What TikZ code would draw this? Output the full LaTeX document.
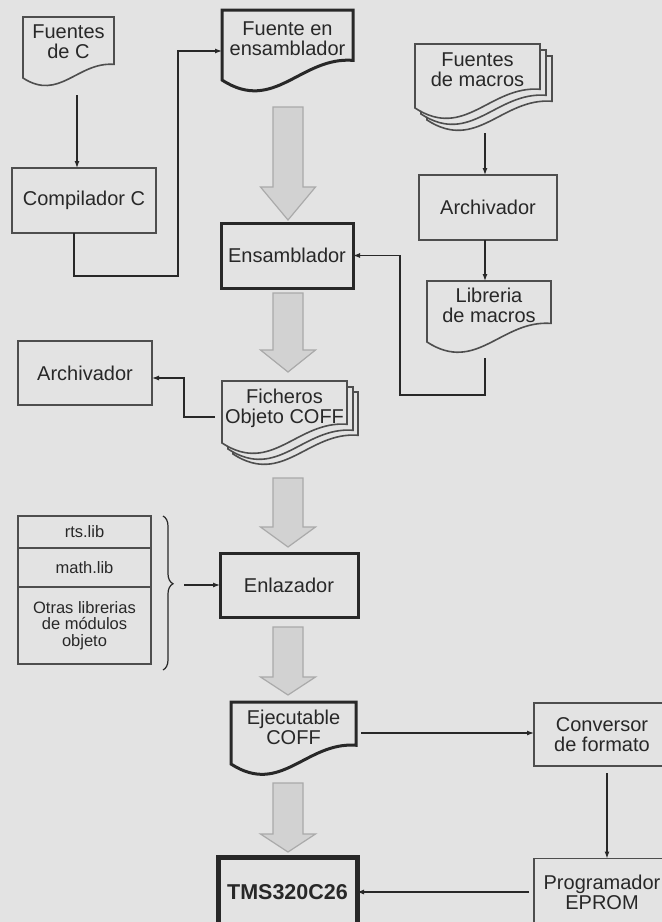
\documentclass[tikz,border=0pt]{standalone}
\usepackage{fontspec}
\setmainfont{Liberation Sans}
\usetikzlibrary{positioning,arrows.meta,decorations.pathreplacing,backgrounds}
\definecolor{PaperBg}{RGB}{227,227,227}
\definecolor{Ink}{RGB}{40,40,40}
\definecolor{BoxLine}{RGB}{78,78,78}
\definecolor{FatFill}{RGB}{210,210,210}
\definecolor{FatLine}{RGB}{170,170,170}

\tikzset{
  box/.style={draw=BoxLine,line width=1.6pt,fill=PaperBg,text=Ink,align=center,
              inner sep=0pt,outer sep=0pt,font=\fontsize{20}{20}\selectfont},
  boldbox/.style={box,draw=Ink,line width=3pt},
  libbox/.style={box,minimum width=133pt,font=\fontsize{16.5}{16.5}\selectfont},
  docnode/.style={text=Ink,align=center,inner sep=0pt,outer sep=0pt,text depth=12pt,
              font=\fontsize{20}{20}\selectfont},
  sheet/.style={draw=BoxLine,line width=1.6pt,fill=PaperBg},
  boldsheet/.style={draw=Ink,line width=3pt,fill=PaperBg},
  flow/.style={draw=Ink,line width=1.2pt,-{Latex[length=7pt,width=5pt]}},
  fatfill/.style={fill=FatFill,draw=FatLine,line width=1.2pt},
  libbrace/.style={draw=Ink,line width=1.2pt,decorate,
              decoration={brace,amplitude=10pt,aspect=0.44}},
}

% document symbol: #2 node, #3 width, #4 offset of the sheet
\newcommand{\docsheet}[4][sheet]{%
  \filldraw[#1] ([shift={(#4)}]#2.north west) -- ([shift={(#4)}]#2.north east)
    -- ([shift={(#4)},shift={(0,-0.15*#3)}]#2.south east)
    .. controls +(-0.4*#3,-0.03*#3) and +(0.4*#3,0.26*#3) .. ([shift={(#4)}]#2.south west)
    -- cycle;}

% wide grey arrow: #1 tip, #2 length, #3 head length
\newcommand{\fatarrow}[3]{%
  \filldraw[fatfill] (#1) -- ++(-27.5,-#3) -- ++(12.5,0) -- ++(0,{-(#2-#3)})
    -- ++(30,0) -- ++(0,{#2-#3}) -- ++(12.5,0) -- cycle;}

\begin{document}
\begin{tikzpicture}[x=1pt,y=-1pt]
  \useasboundingbox (0,0) rectangle (662,922);
  \clip (0,0) rectangle (662,922);

  % left column
  \node[docnode,minimum width=91pt,minimum height=61pt] (fuentesC) at (68.5,47.5) {Fuentes\\de C};
  \node[box,minimum width=144pt,minimum height=65pt] (compC) at (84,200.5) {Compilador C};
  \node[box,minimum width=134pt,minimum height=64pt] (archL) at (85,373) {Archivador};
  \node[libbox,minimum height=32pt] (rtsLib) at (84.5,532) {rts.lib};
  \node[libbox,minimum height=39pt,below=0pt of rtsLib] (mathLib) {math.lib};
  \node[libbox,minimum height=77pt,below=0pt of mathLib] (otherLib) {Otras librerias\\de módulos\\objeto};

  % main chain
  \node[docnode,minimum width=131pt,minimum height=70pt] (fensam) at (287.5,45) {Fuente en\\ensamblador};
  \node[boldbox,minimum width=132pt,minimum height=65pt] (ensam) at (287,255.5) {Ensamblador};
  \node[docnode,minimum width=125pt,minimum height=62pt] (ficheros) at (284.5,412) {Ficheros\\Objeto COFF};
  \node[boldbox,minimum width=138pt,minimum height=64pt] (enlaz) at (289,585) {Enlazador};
  \node[docnode,minimum width=125pt,minimum height=62pt] (ejec) at (293.5,733) {Ejecutable\\COFF};
  \node[box,draw=Ink,line width=5pt,minimum width=139pt,minimum height=70pt,
        font=\bfseries\fontsize{21.5}{21.5}\selectfont] (tms) at (287.5,892) {TMS320C26};

  % right column
  \node[docnode,minimum width=125pt,minimum height=64pt] (fmacros) at (477.5,76) {Fuentes\\de macros};
  \node[box,minimum width=138pt,minimum height=65pt] (archR) at (488,207.5) {Archivador};
  \node[docnode,minimum width=124pt,minimum height=61pt] (libmac) at (489,311.5) {Libreria\\de macros};
  \node[box,minimum width=136pt,minimum height=63pt] (conv) at (602,734.5) {Conversor\\de formato};
  \node[box,minimum width=136pt,minimum height=67pt] (prog) at (602,892) {Programador\\EPROM};

  % sheet outlines behind the texts
  \begin{pgfonlayer}{background}
    \fill[PaperBg] (0,0) rectangle (662,922);
    \docsheet{fuentesC}{91}{0,0}
    \docsheet[boldsheet]{fensam}{131}{0,0}
    \foreach \d in {12,6,0} {\docsheet{fmacros}{125}{\d,\d}}
    \docsheet{libmac}{124}{0,0}
    \foreach \d in {11,6,0} {\docsheet{ficheros}{125}{\d,\d}}
    \docsheet[boldsheet]{ejec}{125}{0,0}
  \end{pgfonlayer}

  % thin connectors
  \coordinate (fcOut) at ([shift={(8.5,17)}]fuentesC.south);
  \draw[flow] (fcOut) -- (compC.north -| fcOut);
  \draw[flow] ([xshift=-10pt]compC.south) -- ++(0,43) -- ++(104,0) |- ([shift={(0,6)}]fensam.west);
  \coordinate (fmOut) at ([shift={(7.5,25)}]fmacros.south);
  \draw[flow] (fmOut) -- (archR.north -| fmOut);
  \draw[flow] (archR.south -| fmOut) -- (libmac.north -| fmOut);
  \draw[flow] ([shift={(-4,16)}]libmac.south) -- ++(0,37) -- ++(-85,0) |- (ensam.east);
  \draw[flow] ([shift={(-7,5)}]ficheros.west) -- ++(-31,0) |- ([shift={(0,5)}]archL.east);
  \draw[libbrace] ([shift={(12,0)}]rtsLib.north east) -- ([shift={(12,6)}]otherLib.south east);
  \coordinate (libsOut) at ([xshift=-36pt]enlaz.west);
  \draw[flow] (libsOut) -- (enlaz.west);
  \draw[flow,shorten <=5pt] (ejec.east) -- (ejec.east -| conv.west);
  \draw[flow] ([shift={(5,7)}]conv.south) -- ([xshift=5pt]prog.north);
  \draw[flow,shorten <=5pt] (prog.west) -- (tms.east);

  % wide grey arrows down the main chain
  \fatarrow{[shift={(1,-3)}]ensam.north}{113}{33}
  \fatarrow{[shift={(3.5,-9)}]ficheros.north}{79}{22}
  \fatarrow{[shift={(-1,-6)}]enlaz.north}{69}{20}
  \fatarrow{[shift={(-5.5,-7)}]ejec.north}{68}{18}
  \fatarrow{[shift={(0.5,-5)}]tms.north}{69}{18}
\end{tikzpicture}
\end{document}
